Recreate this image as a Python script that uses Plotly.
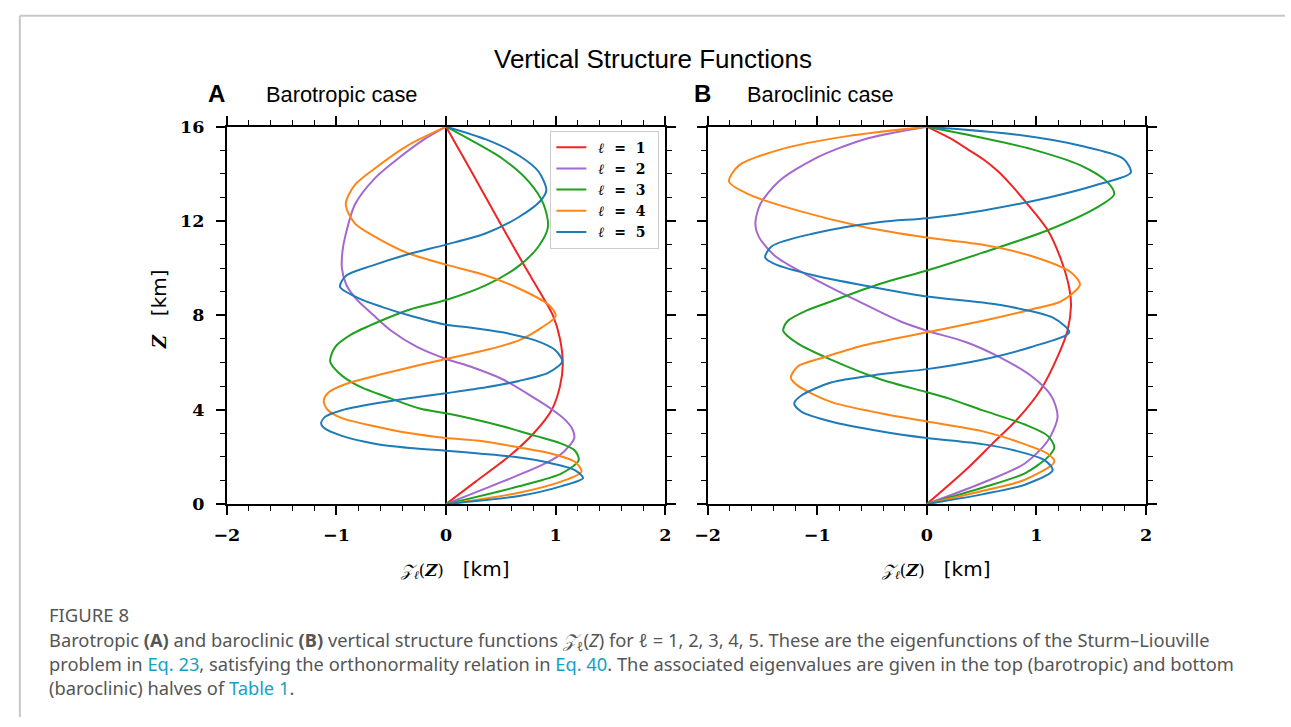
import plotly.graph_objects as go

# ---------------------------------------------------------------
# Vertical structure functions Z_l(Z) (km) sampled at heights Z (km)
# ---------------------------------------------------------------

# Barotropic case
bt_l1_z = [0, 0.95, 2.0, 3.0, 4.0, 5.0, 5.9, 7.0, 8.0, 9.0, 10.1, 12.15, 14.2, 16]
bt_l1_v = [0, 0.27, 0.57, 0.80, 0.965, 1.04, 1.065, 1.04, 0.975, 0.855, 0.715, 0.465, 0.22, 0]

bt_l2_z = [0, 0.96, 1.72, 2.2, 2.8, 3.2, 3.6, 4.0, 4.47, 5.29, 5.84, 6.15, 6.66, 7.35,
           8.0, 8.7, 9.3, 10.0, 10.7, 11.34, 12.71, 13.81, 14.64, 15.46, 16]
bt_l2_v = [0, 0.52, 0.905, 1.07, 1.17, 1.15, 1.08, 0.97, 0.815, 0.515, 0.215, 0, -0.265, -0.50,
           -0.66, -0.82, -0.91, -0.95, -0.945, -0.92, -0.83, -0.65, -0.44, -0.2, 0]

bt_l3_z = [0, 0.75, 1.3, 1.86, 2.27, 2.61, 2.89, 3.3, 3.64, 3.85, 4.05, 4.47, 5.01,
           5.57, 6.05, 6.66, 7.2, 7.76, 8.25, 8.65, 9.28, 10.1, 10.93, 11.75, 12.71,
           13.67, 14.64, 15.46, 16]
bt_l3_v = [0, 0.665, 1.055, 1.21, 1.175, 1.025, 0.815, 0.515, 0.215, 0, -0.24, -0.50, -0.80,
           -0.98, -1.057, -1.01, -0.86, -0.60, -0.33, 0, 0.365, 0.665, 0.845, 0.93, 0.89,
           0.755, 0.515, 0.215, 0]

bt_l4_z = [0, 0.48, 0.96, 1.37, 1.79, 2.13, 2.4, 2.68, 2.8, 3.02, 3.3, 3.64, 4.05,
           4.4, 4.74, 5.08, 5.43, 5.77, 6.15, 6.53, 6.94, 7.49, 7.97, 8.45, 9.14, 9.69,
           10.15, 10.65, 11.34, 11.89, 12.71, 13.54, 14.23, 15.19, 16]
bt_l4_v = [0, 0.665, 1.055, 1.235, 1.175, 0.965, 0.665, 0.305, 0, -0.355, -0.65, -0.95, -1.09,
           -1.115, -1.07, -0.92, -0.65, -0.355, 0, 0.365, 0.665, 0.875, 1.0, 0.935, 0.665, 0.365,
           0, -0.355, -0.65, -0.83, -0.915, -0.83, -0.65, -0.355, 0]

bt_l5_z = [0, 0.34, 0.76, 1.1, 1.44, 1.72, 2.0, 2.14, 2.26, 2.38, 2.56, 2.89, 3.23,
           3.43, 3.71, 3.98, 4.26, 4.47, 4.7, 4.95, 5.22, 5.57, 6.05, 6.53, 6.94, 7.28,
           7.49, 7.6, 7.95, 8.35, 8.73, 9.21, 9.69, 10.1, 10.58, 11.0, 11.48, 12.17,
           12.85, 13.3, 14.09, 14.78, 15.46, 16]
bt_l5_v = [0, 0.665, 1.055, 1.25, 1.175, 0.965, 0.62, 0.30, 0, -0.33, -0.65, -0.95, -1.115,
           -1.14, -1.10, -0.95, -0.65, -0.355, 0, 0.365, 0.665, 0.935, 1.06, 0.995, 0.815, 0.515,
           0.215, 0, -0.30, -0.58, -0.80, -0.967, -0.91, -0.68, -0.355, 0, 0.365, 0.665,
           0.86, 0.915, 0.845, 0.665, 0.365, 0]

# Baroclinic case
bc_l1_z = [0, 1.44, 2.54, 3.64, 4.88, 6.25, 7.35, 8.4, 9.14, 10.38, 11.61, 12.85, 13.5,
           14.09, 14.6, 15.05, 15.5, 16]
bc_l1_v = [0, 0.354, 0.594, 0.834, 1.043, 1.193, 1.283, 1.315, 1.30, 1.223, 1.103, 0.894, 0.775,
           0.654, 0.52, 0.37, 0.215, 0]

bc_l2_z = [0, 0.89, 1.72, 2.68, 3.71, 4.6, 5.43, 6.25, 6.87, 7.35, 7.76, 8.59,
           9.69, 10.52, 11.34, 11.89, 12.71, 13.67, 14.64, 15.46, 16]
bc_l2_v = [0, 0.504, 0.894, 1.103, 1.193, 1.133, 0.953, 0.654, 0.354, 0, -0.25, -0.62,
           -1.085, -1.385, -1.534, -1.565, -1.52, -1.354, -1.025, -0.575, 0]

bc_l3_z = [0, 0.69, 1.3, 1.99, 2.4, 2.89, 3.37, 3.98, 4.47, 4.74, 5.29, 6.12, 6.8,
           7.35, 7.76, 8.2, 8.59, 9.34, 9.9, 10.65, 11.61, 12.58, 13.13, 13.67, 14.36,
           15.05, 15.53, 16]
bc_l3_v = [0, 0.504, 0.894, 1.103, 1.163, 1.103, 0.894, 0.504, 0.204, 0, -0.425, -0.875, -1.175,
           -1.31, -1.27, -1.10, -0.875, -0.425, 0, 0.504, 1.103, 1.553, 1.709, 1.643, 1.403,
           0.953, 0.504, 0]

bc_l4_z = [0, 0.55, 1.03, 1.79, 2.13, 2.68, 3.09, 3.5, 3.85, 4.33, 5.01, 5.36, 5.84,
           6.18, 6.73, 7.28, 7.76, 8.25, 8.59, 9.3, 9.83, 10.52, 11.0, 11.3, 11.75,
           12.44, 13.13, 13.67, 14.36, 15.05, 15.6, 16]
bc_l4_v = [0, 0.504, 0.894, 1.163, 1.103, 0.804, 0.504, 0, -0.425, -0.875, -1.175, -1.241, -1.175,
           -0.965, -0.575, 0, 0.504, 0.953, 1.223, 1.397, 1.313, 0.953, 0.50, 0, -0.575,
           -1.175, -1.624, -1.804, -1.714, -1.325, -0.725, 0]

bc_l5_z = [0, 0.41, 0.82, 1.44, 1.86, 2.27, 2.54, 2.8, 3.09, 3.5, 3.92, 4.26, 4.6,
           5.15, 5.5, 5.72, 6.12, 6.66, 7.28, 7.9, 8.45, 8.8, 9.14, 9.69, 10.17, 10.45,
           10.93, 11.48, 11.96, 12.12, 12.44, 12.99, 13.54, 14.05, 14.64, 15.19, 15.67, 16]
bc_l5_v = [0, 0.504, 0.894, 1.148, 1.073, 0.804, 0.504, 0, -0.425, -0.875, -1.145, -1.21, -1.145,
           -0.875, -0.425, 0, 0.504, 0.953, 1.299, 1.15, 0.654, 0, -0.425, -1.025, -1.385, -1.475,
           -1.415, -1.025, -0.425, 0, 0.504, 1.103, 1.553, 1.86, 1.793, 1.403, 0.804, 0]

mode_labels = ["1", "2", "3", "4", "5"]
mode_colors = ["#f02424", "#a468d0", "#1fa01f", "#ff8516", "#1f7ab8"]

x_ticks = [-2, -1, 0, 1, 2]
y_ticks = [0, 4, 8, 12, 16]

barotropic = [(bt_l1_z, bt_l1_v), (bt_l2_z, bt_l2_v), (bt_l3_z, bt_l3_v),
              (bt_l4_z, bt_l4_v), (bt_l5_z, bt_l5_v)]
baroclinic = [(bc_l1_z, bc_l1_v), (bc_l2_z, bc_l2_v), (bc_l3_z, bc_l3_v),
              (bc_l4_z, bc_l4_v), (bc_l5_z, bc_l5_v)]

W, H = 1291, 727


def px(x):
    return x / W


def py(y):
    return 1 - y / H


fig = go.Figure()

legend_names = [f"\u2002<b><i>ℓ</i>\u2002\u2009=\u2002\u2009{m}</b>\u2002" for m in mode_labels]

for i, (z, v) in enumerate(barotropic):
    fig.add_trace(go.Scatter(
        x=v, y=z, mode="lines", xaxis="x", yaxis="y",
        line=dict(color=mode_colors[i], width=2, shape="spline", smoothing=0.8),
        name=legend_names[i], showlegend=True))

for i, (z, v) in enumerate(baroclinic):
    fig.add_trace(go.Scatter(
        x=v, y=z, mode="lines", xaxis="x2", yaxis="y2",
        line=dict(color=mode_colors[i], width=2, shape="spline", smoothing=0.8),
        name=legend_names[i], showlegend=False))

tick_font = dict(family="DejaVu Serif", size=17.5, color="black", weight="bold")


def x_axis(domain, anchor):
    return dict(domain=domain, anchor=anchor, range=[-2, 2], tickvals=x_ticks,
                showline=True, linecolor="black", linewidth=1.8, mirror="allticks",
                ticks="outside", ticklen=9, tickwidth=1.8, tickcolor="black",
                showgrid=False, zeroline=True, zerolinecolor="black", zerolinewidth=2,
                tickfont=tick_font, ticklabelstandoff=5,
                minor=dict(dtick=0.2, ticks="outside", ticklen=5, tickwidth=1.4,
                           tickcolor="black", showgrid=False))


def y_axis(domain, anchor, labels):
    return dict(domain=domain, anchor=anchor, range=[0, 16], tickvals=y_ticks,
                showline=True, linecolor="black", linewidth=1.8, mirror="allticks",
                ticks="outside", ticklen=9, tickwidth=1.8, tickcolor="black",
                showgrid=False, zeroline=False, showticklabels=labels,
                tickfont=tick_font, ticklabelstandoff=8,
                minor=dict(dtick=1, ticks="outside", ticklen=5, tickwidth=1.4,
                           tickcolor="black", showgrid=False))


y_dom = [py(508), py(120)]
fig.update_layout(
    xaxis=x_axis([px(217), px(662)], "y"),
    yaxis=y_axis(y_dom, "x", True),
    xaxis2=x_axis([px(705), px(1150)], "y2"),
    yaxis2=y_axis(y_dom, "x2", False),
)

annotations = []
sans = "Liberation Sans"

annotations.append(dict(text="Vertical Structure Functions", x=px(650), y=py(50),
                        font=dict(family=sans, size=26, color="black")))
annotations.append(dict(text="<b>A</b>", x=px(207), y=py(86),
                        font=dict(family=sans, size=24, color="black")))
annotations.append(dict(text="Barotropic case", x=px(255), y=py(87), xanchor="left",
                        font=dict(family=sans, size=21.8, color="black")))
annotations.append(dict(text="<b>B</b>", x=px(700), y=py(86),
                        font=dict(family=sans, size=24, color="black")))
annotations.append(dict(text="Baroclinic case", x=px(743), y=py(87), xanchor="left",
                        font=dict(family=sans, size=21.8, color="black")))

zlab = ('<span style="font-family:DejaVu Serif;font-size:16.5px">'
        '<i>𝒵<sub>ℓ</sub></i>(<b><i>Z</i></b>)</span>')
xlabel = zlab + '   [km]'
for cx in (448, 936):
    annotations.append(dict(text=xlabel, x=px(cx), y=py(575),
                            font=dict(family="DejaVu Sans", size=20, color="black")))

annotations.append(dict(text='<span style="font-family:DejaVu Serif;font-size:18px"><b><i>Z</i></b></span>   [km]',
                        x=px(148), y=py(308), textangle=-90,
                        font=dict(family="DejaVu Sans", size=20, color="black")))

# Caption
cap_color = "#555555"
link = "#16a0c6"
annotations.append(dict(text="FIGURE 8", x=px(35), y=py(622), xanchor="left",
                        font=dict(family="Noto Sans", size=18.5, color=cap_color)))
caption = "<br>".join([
    "Barotropic <b>(A)</b> and baroclinic <b>(B)</b> vertical structure functions "
    "<i>𝒵<sub>ℓ</sub></i>(<i>Z</i>) for <i>ℓ</i> = 1, 2, 3, 4, 5. These are the eigenfunctions "
    "of the Sturm–Liouville",
    f'problem in <span style="color:{link}">Eq. 23</span>, satisfying the orthonormality '
    f'relation in <span style="color:{link}">Eq. 40</span>. The associated eigenvalues are '
    "given in the top (barotropic) and bottom",
    f'(baroclinic) halves of <span style="color:{link}">Table 1</span>.',
])
annotations.append(dict(text=caption, x=px(35), y=py(671.5), xanchor="left", align="left",
                        font=dict(family="Noto Sans", size=18.3, color=cap_color)))

for a in annotations:
    a.setdefault("xref", "paper")
    a.setdefault("yref", "paper")
    a.setdefault("showarrow", False)
    a.setdefault("yanchor", "middle")
    a.setdefault("xanchor", "center")

# Page frame
shapes = [
    dict(type="line", xref="paper", yref="paper", x0=px(7), x1=px(7), y0=0, y1=py(6),
         line=dict(color="#c8c8c8", width=2)),
    dict(type="line", xref="paper", yref="paper", x0=px(7), x1=1, y0=py(6), y1=py(6),
         line=dict(color="#c8c8c8", width=2)),
]

fig.update_layout(
    width=W, height=H, autosize=False,
    margin=dict(l=0, r=0, t=0, b=0),
    paper_bgcolor="white", plot_bgcolor="white",
    annotations=annotations, shapes=shapes,
    legend=dict(x=px(656), y=py(124), xanchor="right", yanchor="top",
                bgcolor="white", bordercolor="#cccccc", borderwidth=1,
                font=dict(family="DejaVu Serif", size=14, color="black"),
                tracegroupgap=0, itemwidth=30),
    showlegend=True,
)

fig.write_html("out.html")
